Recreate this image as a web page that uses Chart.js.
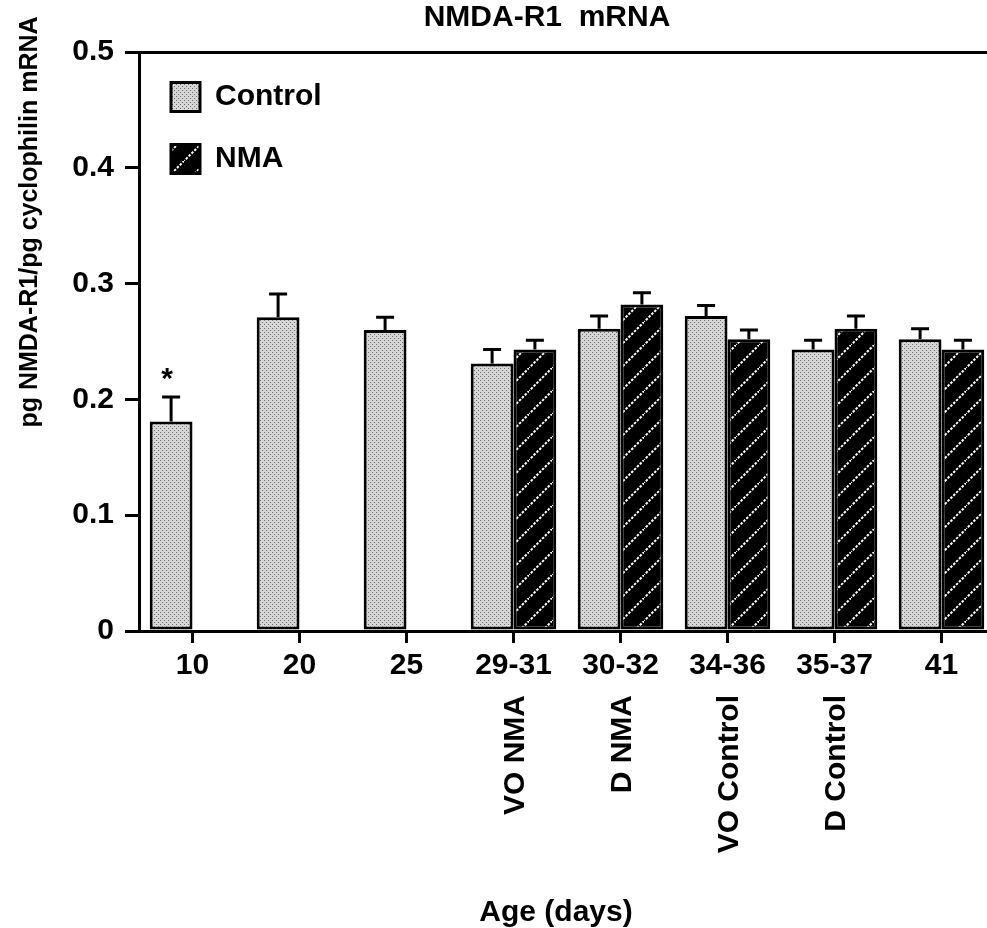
<!DOCTYPE html>
<html lang="en">
<head>
    <meta charset="UTF-8">
    <title>NMDA-R1 mRNA</title>
    <script src="https://cdn.jsdelivr.net/npm/chart.js"></script>
    <style>
        body { margin: 0; background: #fff; }
        .wrap { width: 987px; height: 928px; overflow: hidden; }
        canvas { display: block; }
    </style>
</head>
<body>
    <div class="wrap">
        <!-- the plot runs a little past the right edge, as in the figure -->
        <canvas id="nmdaChart" width="1000" height="928"></canvas>
    </div>
    <script>
        // Values
        const ageLabels = ['10', '20', '25', '29-31', '30-32', '34-36', '35-37', '41'];
        const groupLabels = ['', '', '', 'VO NMA', 'D NMA', 'VO Control', 'D Control', ''];
        const controlValues = [0.181, 0.271, 0.260, 0.231, 0.261, 0.272, 0.243, 0.252];
        const controlErrors = [0.021, 0.020, 0.011, 0.012, 0.011, 0.009, 0.008, 0.009];
        const nmaValues = [null, null, null, 0.243, 0.282, 0.252, 0.261, 0.243];
        const nmaErrors = [null, null, null, 0.008, 0.010, 0.008, 0.011, 0.008];
        const starred = [true, false, false, false, false, false, false, false];
        const yTicks = [0, 0.1, 0.2, 0.3, 0.4, 0.5];

        const FONT = "'Liberation Sans', Arial, Helvetica, sans-serif";
        Chart.defaults.font.family = FONT;
        Chart.defaults.font.weight = 'bold';
        Chart.defaults.color = '#000';

        const canvas = document.getElementById('nmdaChart');
        const ctx = canvas.getContext('2d');

        // light grey stipple for the control bars
        function stipple() {
            const c = document.createElement('canvas');
            c.width = 4; c.height = 4;
            const g = c.getContext('2d');
            g.fillStyle = '#d6d6d6';
            g.fillRect(0, 0, 4, 4);
            g.fillStyle = '#707070';
            g.fillRect(0, 0, 1, 1);
            g.fillRect(2, 2, 1, 1);
            return ctx.createPattern(c, 'repeat');
        }

        // black with white dashed diagonals for NMA
        function hatch() {
            const s = 23;
            const c = document.createElement('canvas');
            c.width = s; c.height = s;
            const g = c.getContext('2d');
            g.fillStyle = '#000';
            g.fillRect(0, 0, s, s);
            g.strokeStyle = '#fff';
            g.lineWidth = 2;
            g.setLineDash([2.5, 1.5]);
            g.beginPath();
            g.moveTo(-1, s + 1);
            g.lineTo(s + 1, -1);
            g.stroke();
            return ctx.createPattern(c, 'repeat');
        }

        const errorSets = [controlErrors, nmaErrors];

        const errorBars = {
            id: 'errorBars',
            afterDatasetsDraw(chart) {
                const c = chart.ctx;
                const y = chart.scales.y;
                c.save();
                c.strokeStyle = '#000';
                c.lineWidth = 3;
                chart.data.datasets.forEach((ds, d) => {
                    const meta = chart.getDatasetMeta(d);
                    ds.data.forEach((v, i) => {
                        const err = errorSets[d][i];
                        if (v === null || err === null) return;
                        const bar = meta.data[i];
                        const top = y.getPixelForValue(v + err);
                        c.beginPath();
                        c.moveTo(bar.x, bar.y);
                        c.lineTo(bar.x, top);
                        c.moveTo(bar.x - 9, top);
                        c.lineTo(bar.x + 9, top);
                        c.stroke();
                        if (d === 0 && starred[i]) {
                            c.fillStyle = '#000';
                            c.font = 'bold 30px ' + FONT;
                            c.textAlign = 'center';
                            c.textBaseline = 'alphabetic';
                            c.fillText('*', bar.x - 4, top - 9);
                        }
                    });
                });
                c.restore();
            }
        };

        const extraText = {
            id: 'extraText',
            afterDraw(chart) {
                const c = chart.ctx;
                const x = chart.scales.x;
                c.save();
                c.fillStyle = '#000';

                c.font = 'bold 30px ' + FONT;
                c.textAlign = 'center';
                c.textBaseline = 'alphabetic';
                c.fillText('NMDA-R1  mRNA', 547, 26);
                c.fillText('Age (days)', 556, 921);

                // group names under the ages, rotated
                groupLabels.forEach((lab, i) => {
                    if (!lab) return;
                    c.save();
                    c.translate(x.getPixelForValue(i) + 2, 695);
                    c.rotate(-Math.PI / 2);
                    c.textAlign = 'right';
                    c.textBaseline = 'middle';
                    c.fillText(lab, 0, 0);
                    c.restore();
                });

                c.save();
                c.font = 'bold 25px ' + FONT;
                c.translate(30, 222);
                c.rotate(-Math.PI / 2);
                c.textAlign = 'center';
                c.textBaseline = 'middle';
                c.fillText('pg NMDA-R1/pg cyclophilin mRNA', 0, 0);
                c.restore();

                c.restore();
            }
        };

        new Chart(ctx, {
            type: 'bar',
            data: {
                labels: ageLabels,
                datasets: [{
                    label: 'Control',
                    data: controlValues,
                    backgroundColor: stipple(),
                    borderColor: '#000',
                    borderWidth: 3,
                    borderSkipped: false
                }, {
                    label: 'NMA',
                    data: nmaValues,
                    backgroundColor: hatch(),
                    borderColor: '#000',
                    borderWidth: 3,
                    borderSkipped: false
                }]
            },
            options: {
                responsive: false,
                animation: false,
                categoryPercentage: 0.8,
                barPercentage: 1,
                layout: {
                    padding: { top: 52, right: 5, bottom: 0, left: 0 }
                },
                plugins: {
                    tooltip: { enabled: false },
                    legend: {
                        position: 'chartArea',
                        align: 'start',
                        // empty title only pushes the entries down into the plot
                        title: {
                            display: true,
                            text: '',
                            font: { size: 10 },
                            padding: { top: 38, bottom: 0 }
                        },
                        labels: {
                            boxWidth: 29,
                            boxHeight: 29,
                            padding: 32,
                            color: '#000',
                            font: { size: 30, weight: 'bold' }
                        }
                    }
                },
                scales: {
                    x: {
                        offset: true,
                        grid: {
                            offset: false,
                            drawOnChartArea: false,
                            tickLength: 12,
                            color: '#000',
                            lineWidth: 3
                        },
                        border: { color: '#000', width: 3 },
                        ticks: {
                            padding: 5,
                            maxRotation: 0,
                            autoSkip: false,
                            color: '#000',
                            font: { size: 30, weight: 'bold' }
                        },
                        afterFit(scale) { scale.height = 297; }
                    },
                    y: {
                        min: 0,
                        max: 0.5,
                        afterBuildTicks(scale) {
                            scale.ticks = yTicks.map(v => ({ value: v }));
                        },
                        grid: {
                            color: c => c.tick.value === 0.5 ? '#000' : 'rgba(0,0,0,0)',
                            tickColor: '#000',
                            tickLength: 14,
                            lineWidth: 3
                        },
                        border: { color: '#000', width: 3 },
                        ticks: {
                            padding: 11,
                            color: '#000',
                            font: { size: 30, weight: 'bold' },
                            callback: v => v === 0 ? '0' : v.toFixed(1)
                        },
                        afterFit(scale) { scale.width = 139; }
                    }
                }
            },
            plugins: [errorBars, extraText]
        });
    </script>
</body>
</html>
